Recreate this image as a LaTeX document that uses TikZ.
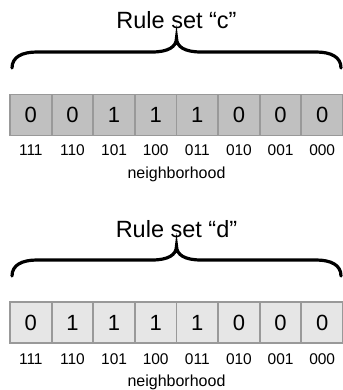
\documentclass[tikz,border=0pt]{standalone}
\usepackage{fontspec}
\setmainfont{Liberation Sans}
\definecolor{darkcell}{HTML}{C0C0C0}
\definecolor{lightcell}{HTML}{E6E6E6}
\definecolor{cellline}{HTML}{999999}
\begin{document}
\begin{tikzpicture}[x=1pt,y=-1pt,
  cell/.style={draw=cellline,line width=1.8pt,minimum width=41.6pt,minimum height=41pt,inner sep=0pt,font=\fontsize{22}{22}\selectfont},
  nbhd/.style={inner sep=0pt,anchor=base,font=\fontsize{15.5}{15.5}\selectfont},
  title/.style={inner sep=0pt,anchor=base,font=\fontsize{23.5}{23.5}\selectfont},
  bracepath/.style={line width=3.2pt,line cap=round}]
\useasboundingbox (0,0) rectangle (342,390);
% titles
\node[title] (t1) at (176.5,29) {Rule set “c”};
\node[title] (t2) at (176.5,237) {Rule set “d”};
% braces
\foreach \oy in {0,208}{
  \draw[bracepath] (12,68+\oy) .. controls (12,57+\oy) and (22,52+\oy) .. (37,52+\oy) -- (152,52+\oy)
    .. controls (168,52+\oy) and (176.5,47+\oy) .. (176.5,38+\oy)
    .. controls (176.5,47+\oy) and (185,52+\oy) .. (201,52+\oy) -- (316,52+\oy)
    .. controls (331,52+\oy) and (341,57+\oy) .. (341,68+\oy);
}
% cells
\foreach \v [count=\i] in {0,0,1,1,1,0,0,0}{
  \node[cell,fill=darkcell] (a\i) at ({10+41.625*(\i-0.5)},115) {\v};
}
\foreach \v [count=\i] in {0,1,1,1,1,0,0,0}{
  \node[cell,fill=lightcell] (b\i) at ({10+41.625*(\i-0.5)},322.5) {\v};
}
% neighborhood labels
\foreach \n [count=\i] in {111,110,101,100,011,010,001,000}{
  \node[nbhd] (na\i) at ({10+41.625*(\i-0.5)},156) {\n};
  \node[nbhd] (nb\i) at ({10+41.625*(\i-0.5)},364) {\n};
}
\node[nbhd,font=\fontsize{16}{16}\selectfont] (la) at (176.5,178) {neighborhood};
\node[nbhd,font=\fontsize{16}{16}\selectfont] (lb) at (176.5,386) {neighborhood};
\end{tikzpicture}
\end{document}
